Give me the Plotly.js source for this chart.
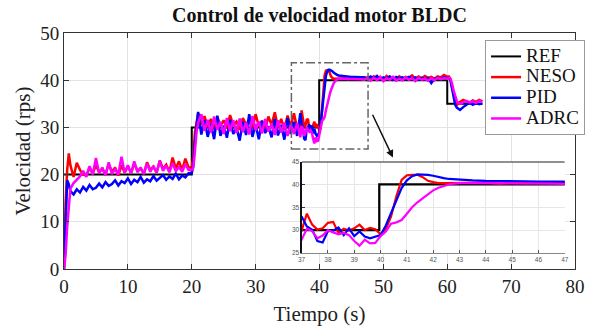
<!DOCTYPE html>
<html><head><meta charset="utf-8">
<script src="https://cdn.plot.ly/plotly-3.0.1.min.js"></script>
<style>html,body{margin:0;padding:0;background:#fff}#chart{width:591px;height:328px}</style>
</head><body><div id="chart"></div>
<script>
// ---- data ----
const tA = [0,0.25,0.5,0.75,1,1.5,2,2.5,3,3.5,4,4.5,5,5.5,6,6.5,7,7.5,8,8.5,9,9.5,10,10.5,11,11.5,12,12.5,13,13.5,14,14.5,15,15.5,16,16.5,17,17.5,18,18.5,19,19.5];
const tB = [20,20.25,20.5,20.75,21,21.5,22,22.5,23,23.5,24,24.5,25,25.5,26,26.5,27,27.5,28,28.5,29,29.5,30,30.5,31,31.5,32,32.5,33,33.5,34,34.5,35,35.5,36,36.5];
const tC = [37,37.2,37.4,37.6,37.8,38,38.2,38.4,38.6,38.8,39,39.2,39.4,39.6,39.8,40,40.2,40.4,40.6,40.8,41,41.2,41.4,41.6,41.8,42,42.2,42.4,42.6,42.8,43];
const tD = [43.5,44,44.5,45,45.5,46,46.5,47,47.5,48,48.5,49,49.5,50,50.5,51,51.5,52,52.5,53,53.5,54,54.5,55,55.5,56,56.5,57,57.5,58,58.5,59,59.5,60];
const tE = [60.25,60.5,60.75,61,61.25,61.5,61.75,62,62.5,63,63.5,64,64.5,65,65.5];

const refT = [0,20,20,39.95,39.95,60,60,65.5];
const refV = [20,20,30,30,40,40,35,35];

const nesoA = [0,14,21,24.5,22,19.5,22.5,21,20,19.8,21.5,20.2,22,20.5,21.2,20,22.3,20.6,21.5,19.8,22,20.4,21.8,20.3,22.4,20.8,21.3,20.2,22.6,21,21.7,20.4,23,21.2,22.1,20.6,23.6,21.3,22.8,21,23.4,21.5];
const nesoB = [21.5,24,29,31.5,33,30.5,32.4,30,31.8,29.6,32.2,30.3,31.5,29.8,32.6,30.4,31.2,29.5,32,30.6,31.6,29.9,32.8,30.2,31.4,29.7,32.3,30.5,33.2,30,31.8,29.6,32.5,30.2,33,29.8];
const nesoC = [29.9,33.6,31.2,30.1,30.4,31.6,31.8,29.4,30.3,29.9,30.4,31.2,30.0,30.5,30.2,29.1,30.2,33.0,37.4,41.0,42.0,42.1,42.1,41.6,40.8,40.5,40.3,40.3,40.3,40.3,40.4];
const nesoD = [40.3,40.4,40.2,40.4,40.3,40.4,40.3,40.4,40.6,40.2,40.8,40.3,40.7,40.1,40.9,40.4,40.6,40.2,40.8,40.3,40.7,40.5,41,40.3,40.8,40.4,40.9,40.5,40.7,40.3,40.8,40.6,41.1,40.7];
const nesoE = [40.8,40.3,38.5,36.5,35.3,34.8,35.0,35.4,35.8,35.5,35.2,35.7,35.4,35.8,35.5];

const pidA = [0,12,18.8,18,16.5,15.8,16.9,16.2,17.4,16.6,17.8,16.9,17.2,18.1,17.3,18.4,17.6,18.0,18.8,17.7,18.6,18.2,19.2,18.0,18.9,18.4,19.5,18.3,19.0,18.6,19.7,18.7,19.3,19.9,18.9,19.6,19.1,20.2,19.0,19.8,19.4,20.3];
const pidB = [20.3,22,27,31,33.3,28.5,31.5,28,30.8,27.5,32.5,28.2,30.4,27.8,31.6,28.6,30,27.2,31.2,28.4,32.8,28,30.6,27.5,31.4,28.8,30.2,27.9,31.8,28.3,30.5,27.4,32,28.6,31.2,28.2];
const pidC = [33.0,30.8,30.1,27.6,27.3,29.8,29.9,30.6,28.9,30.4,28.7,29.7,28.6,28.2,28.6,28.9,31.0,33.8,36.4,39.2,40.9,41.8,42.2,42.2,42.1,41.9,41.6,41.4,41.2,41.1,41.0];
const pidD = [40.9,40.8,40.8,40.7,40.7,40.6,40.6,40.6,40.3,40.8,40.4,40.9,40.2,40.6,40.3,40.8,40.1,40.7,40.4,40.6,40.2,40.7,40.3,40.6,40.1,40.5,40.2,40.4,39.4,40.3,40.5,40.2,40.6,40.4];
const pidE = [40.4,40,38,36,34.8,34.2,33.9,33.7,34.3,34.9,35.3,34.8,35.2,34.9,35.1];

const adrcA = [0,3,9,14,17,18.2,19,19.6,20.8,19.5,21.8,20,23.5,20.3,21.5,19.8,22.6,20.1,21.2,20,23.8,20.4,22,20.2,22.8,20.5,21.5,20.1,22.3,20.6,21.8,20.4,22.9,20.8,21.9,20.5,22.4,20.7,21.6,20.6,22.2,21];
const adrcB = [21,21.5,25,29,31,32.8,29.3,31.6,28.9,32.3,29.5,31.2,28.6,32,29.2,31.5,28.8,31.9,29,31,28.5,32.4,29.4,31.3,28.7,31.8,29.1,30.8,28.4,31.5,28.9,31,28.2,30.6,28.6,30.9];
const adrcC = [27.9,30.3,29.8,28.2,28.8,30.0,29.5,29.1,29.4,28.9,27.6,26.6,27.9,27.1,27.2,28.7,29.7,31.4,31.7,32.2,33.6,35.0,36.1,37.0,37.9,38.7,39.3,39.7,40.0,40.2,40.3];
const adrcD = [40.3,40.3,40.3,40.3,40.2,40.2,40.2,40.1,40.4,39.9,40.5,40,40.6,39.8,40.4,40.1,40.7,39.9,40.3,40,40.6,40.1,40.4,39.8,40.5,40.1,40.3,39.9,40.4,40,40.5,40.2,40.4,40.3];
const adrcE = [40.5,40.3,39.3,37.8,36.5,35.6,35.2,35.0,35.3,35.6,35.3,35.5,35.2,35.6,35.4];

const seriesNames = ['REF','NESO','PID','ADRC'];
const xTicks = [0,10,20,30,40,50,60,70,80];
const yTicks = [0,10,20,30,40,50];
const insetXRange = [37,47];
const insetYRange = [25,45];
const insetXTicks = [37,38,39,40,41,42,43,44,45,46,47];
const insetYTicks = [25,30,35,40,45];

// ---- build ----
const T = tA.concat(tB, tC, tD, tE);
const neso = nesoA.concat(nesoB, nesoC, nesoD, nesoE);
const pid = pidA.concat(pidB, pidC, pidD, pidE);
const adrc = adrcA.concat(adrcB, adrcC, adrcD, adrcE);

const colors = ['#000000','#ff0000','#0000ff','#ff00ff'];
const ys = [null, neso, pid, adrc];
const traces = [];
for (let i = 0; i < 4; i++) {
  traces.push({x: i===0?refT:T, y: i===0?refV:ys[i],
    name: '<span style="font-size:19px">' + seriesNames[i] + '</span>',
    type:'scatter', mode:'lines',
    line:{color:colors[i], width: i===0?2:2.5}, xaxis:'x', yaxis:'y'});
}
for (let i = 0; i < 4; i++) {
  traces.push({x: i===0?refT:T, y: i===0?refV:ys[i], name: seriesNames[i], type:'scatter', mode:'lines',
    line:{color:colors[i], width:2.2}, xaxis:'x2', yaxis:'y2', showlegend:false});
}

const serif = 'Liberation Serif';
const layout = {
  width:591, height:328,
  margin:{l:64, r:16, t:33, b:59, autoexpand:false},
  paper_bgcolor:'#fff', plot_bgcolor:'#fff',
  font:{family:serif, color:'#222'},
  title:{text:'<b>Control de velocidad motor BLDC</b>', font:{family:serif, size:20, color:'#111'}, x:0.5, xref:'paper', y:0.955, yanchor:'middle'},
  xaxis:{range:[0,80], tickvals:xTicks, ticks:'inside', ticklen:5, tickcolor:'#333', showline:true, linecolor:'#333', linewidth:1, mirror:'ticks',
    showgrid:true, gridcolor:'#e3e3e3', zeroline:false, tickfont:{family:serif, size:19, color:'#222'},
    title:{text:'Tiempo (s)', font:{family:serif, size:21, color:'#222'}, standoff:10}},
  yaxis:{range:[0,50], tickvals:yTicks, ticks:'inside', ticklen:5, tickcolor:'#333', showline:true, linecolor:'#333', linewidth:1, mirror:'ticks',
    showgrid:true, gridcolor:'#e3e3e3', zeroline:false, tickfont:{family:serif, size:19, color:'#222'},
    title:{text:'Velocidad (rps)', font:{family:serif, size:21, color:'#222'}, standoff:3}},
  xaxis2:{domain:[0.465,0.98], anchor:'y2', range:insetXRange, tickvals:insetXTicks, ticks:'inside', ticklen:3, tickcolor:'#555',
    showline:true, linecolor:'#888', linewidth:1, mirror:false, showgrid:true, gridcolor:'#e6e6e6', zeroline:false,
    tickfont:{size:6.5, color:'#555', family:'Liberation Sans'}},
  yaxis2:{domain:[0.068,0.455], anchor:'x2', range:insetYRange, tickvals:insetYTicks, ticks:'inside', ticklen:3, tickcolor:'#333',
    showline:true, linecolor:'#111', linewidth:1.2, mirror:false, showgrid:true, gridcolor:'#e6e6e6', zeroline:false,
    tickfont:{size:6.5, color:'#555', family:'Liberation Sans'}},
  legend:{x:0.824, y:0.97, xanchor:'left', yanchor:'top', bgcolor:'#fff', bordercolor:'#999', borderwidth:1,
    font:{family:serif, size:13.6, color:'#111'}, itemwidth:30, tracegroupgap:0},
  shapes:[
    {type:'rect', xref:'x', yref:'y', x0:35.6, x1:47.6, y0:25.4, y1:43.7, line:{color:'#666', width:1.5, dash:'dashdot'}},
    {type:'line', xref:'x2', yref:'y2', x0:insetXRange[0], x1:insetXRange[1], y0:insetYRange[1], y1:insetYRange[1], line:{color:'#222', width:1.6}}
  ],
  annotations:[{xref:'x', yref:'y', axref:'x', ayref:'y', x:51.5, y:23.6, ax:48.2, ay:33.0, text:'', showarrow:true,
    arrowhead:2, arrowsize:1, arrowwidth:1.5, arrowcolor:'#111'}]
};
Plotly.newPlot('chart', traces, layout, {displayModeBar:false, staticPlot:true});
</script></body></html>
